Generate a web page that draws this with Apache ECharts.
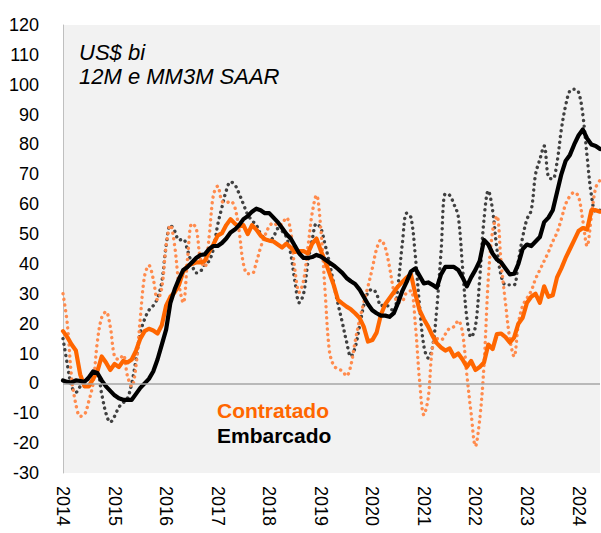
<!DOCTYPE html>
<html>
<head>
<meta charset="utf-8">
<script src="https://cdn.jsdelivr.net/npm/echarts@6/dist/echarts.min.js"></script>
<style>
html,body{margin:0;padding:0;background:#fff;}
#chart{width:601px;height:533px;}
</style>
</head>
<body>
<div id="chart"></div>
<script>
// Monthly categories: Jan 2014 .. Jun 2024
var months = [];
for (var y = 2014; y <= 2024; y++) {
  for (var m = 1; m <= 12; m++) {
    if (y === 2024 && m > 6) break;
    months.push(y + '-' + (m < 10 ? '0' + m : m));
  }
}
var yTicks = [-30, -20, -10, 0, 10, 20, 30, 40, 50, 60, 70, 80, 90, 100, 110, 120];

// Contratado, 12M (solid orange)
var contratado12M = [
  17.5, 15.5, 13, 11, 3, -1, -1, 1.5, 4, 9, 7, 4.5,
  6.5, 5.5, 7.5, 7, 8, 11, 15, 17.5, 18.3, 17.7, 16.7, 19.5,
  26, 29, 30.5, 33, 37.5, 39.3, 40, 40.5, 40.5, 41, 44, 46.5,
  49.5, 50.3, 53, 55, 53.5, 52.5, 53, 50, 53, 51.5, 49.5, 48.3,
  47.8, 47.5, 46.5, 45.5, 46.8, 45.5, 44, 44.3, 44.3, 43.5, 46.8, 48.5,
  44.5, 41, 37, 33, 28, 26.8, 25.7, 24.8, 23.5, 22, 19, 14,
  14.5, 17, 23, 26.5, 28.5, 30.5, 32.5, 34, 35.5, 36.5, 30, 24.5,
  21.5, 19, 16, 13.5, 12, 11, 11.7, 9, 10, 8, 5.5, 7.5,
  4.5, 5.5, 7, 13, 11.5, 16.5, 16.7, 15.5, 13.7, 15.3, 20, 22,
  27, 29, 30, 27, 32.5, 29, 29.5, 35.5, 38.5, 42, 45, 48,
  51, 52, 51.5, 58, 58, 57.5
];
// Contratado, MM3M SAAR (dotted orange)
var contratadoMM3M = [
  30, 20, 2, -7, -11, -10.5, -6, 0, 14, 22, 24, 19,
  9, 8, 9.5, 2.5, -1, 6, 22, 36, 39.5, 35, 28, 32,
  46, 53, 46, 33, 27, 42, 53.5, 52, 41.5, 39, 49, 63,
  66, 61, 60.5, 61, 59, 51, 40, 36.7, 36.7, 40.5, 45.5, 49.5,
  52.5, 53.8, 52.8, 53.5, 55.5, 51, 37.8, 30.5, 34.5, 45.5, 57, 63,
  52, 31, 11, 6, 4.8, 4.2, 2.5, 6, 14, 21, 27, 32.5,
  38.5, 45, 48, 45.5, 39, 31, 27, 27.5, 30.5, 31, 20, 1,
  -10.5, -5, 12, 15, 14.5, 16.5, 18.5, 19, 21, 17, 3, -10,
  -21, -12, 6, 35, 51, 56, 40, 27, 15, 9, 20, 26,
  28.5, 31, 35, 38, 41, 44, 47.5, 50.5, 55, 60, 62.7, 64,
  62.5, 54.5, 46, 56, 65.5, 68
];
// Embarcado, 12M (solid black)
var embarcado12M = [
  1, 0.5, 0.3, 1, 0.8, 0.5, 2, 4, 3.5, 1, -1, -2.5,
  -4, -5, -5.5, -5.5, -5.5, -3.5, -1.5, 0, 1.5, 4, 8, 13,
  18, 27, 31.5, 35, 38, 39, 40.5, 42, 43, 43.2, 45, 46,
  46, 47, 48.5, 50.5, 51.5, 53, 55, 56, 57.5, 58.5, 58, 57,
  57, 55.5, 54, 52, 50, 48.5, 46, 43.5, 42, 42, 42.3, 43,
  42.5, 41.5, 40.5, 39.5, 38.3, 37, 35.3, 34.2, 33.3, 31.5, 29, 26.5,
  24.5, 23.5, 22.7, 22.7, 22.3, 23.5, 27, 31, 34, 37.5, 38.5, 36,
  33.5, 33.8, 33, 32, 36.5, 39, 39, 39, 38, 35.5, 32.5, 35.5,
  38, 41, 48, 46.5, 43.5, 41.5, 40.5, 38.5, 36.5, 36.7, 40, 45,
  46.5, 46, 47.5, 49, 54, 55.5, 58, 64, 70, 74.5, 76.5, 80,
  83, 85, 82, 80, 79.5, 78.5
];
// Embarcado, MM3M SAAR (dotted dark grey)
var embarcadoMM3M = [
  15, 6.5, -1, -3, -1, 0.5, 1.5, 2.5, 3, -3.5, -10, -13,
  -11, -8, -6.5, -5, 0, 8, 17, 21.5, 24.5, 26, 28.5, 34,
  46, 53, 51, 48, 48.3, 44.5, 40, 37, 37.5, 40, 41, 45,
  53, 59, 64.5, 67.5, 66.5, 63.5, 60, 56.5, 54.5, 53, 50, 48.5,
  47.8, 49, 51.8, 51, 49, 43.5, 34, 27, 30, 40.5, 48, 53.5,
  52, 46.5, 40.5, 33.5, 26.7, 20.5, 14, 9, 12, 19, 26, 30.5,
  31.5, 30, 26, 26.3, 25.5, 24, 33, 47, 57, 55.5, 43, 26,
  12.5, 8.5, 12, 25, 44, 63.5, 63, 60, 56, 39, 22, 15.5,
  19, 35, 55, 64.5, 58, 45, 36, 33, 33, 33, 41, 49,
  55, 58, 70, 75, 79.5, 69, 68.5, 74, 85, 93, 98, 98.5,
  97.5, 90, 76, 63, 57.5, 58
];

var FONT = "'Liberation Sans', Arial, sans-serif";
var chart = echarts.init(document.getElementById('chart'), null, {renderer: 'svg'});

function dotted(name, data, color) {
  return {
    name: name, type: 'line', data: data, symbol: 'none', smooth: 0.35,
    lineStyle: {color: color, width: 3.4, type: [0.1, 5.6], cap: 'round', join: 'round'},
    z: 2, silent: true
  };
}
function solid(name, data, color, z) {
  return {
    name: name, type: 'line', data: data, symbol: 'none', smooth: false,
    lineStyle: {color: color, width: 4.2, cap: 'round', join: 'round'},
    z: z, silent: true
  };
}

var series = [
  dotted('Embarcado MM3M', embarcadoMM3M, '#404040'),
  dotted('Contratado MM3M', contratadoMM3M, '#FF8B4D'),
  solid('Contratado 12M', contratado12M, '#FF6600', 3),
  solid('Embarcado 12M', embarcado12M, '#000000', 4)
];
series[0].markLine = {
  silent: true, symbol: 'none', animation: false,
  label: {show: false},
  lineStyle: {color: '#A6A6A6', width: 1.5, type: 'solid'},
  data: [{yAxis: 0}]
};

chart.setOption({
  animation: false,
  backgroundColor: '#ffffff',
  grid: {left: 63, right: 1, top: 25, bottom: 60, show: true, backgroundColor: '#F2F2F2', borderWidth: 0},
  xAxis: {
    type: 'category', data: months, boundaryGap: false,
    axisLine: {show: false}, axisTick: {show: false}, splitLine: {show: false},
    axisLabel: {
      rotate: -90, margin: 13, color: '#000', fontSize: 18, fontFamily: FONT,
      interval: function (i) { return i % 12 === 0; },
      formatter: function (v) { return v.slice(0, 4); }
    }
  },
  yAxis: {
    type: 'value', min: yTicks[0], max: yTicks[yTicks.length - 1], interval: 10,
    axisLine: {show: true, lineStyle: {color: '#BFBFBF', width: 1}},
    axisTick: {show: false}, splitLine: {show: false},
    axisLabel: {color: '#000', fontSize: 18, fontFamily: FONT, margin: 24}
  },
  graphic: [
    {type: 'text', left: 79, top: 41, silent: true,
     style: {text: 'US$ bi', font: 'italic 22px ' + FONT, fill: '#000'}},
    {type: 'text', left: 79, top: 65, silent: true,
     style: {text: '12M e MM3M SAAR', font: 'italic 22px ' + FONT, fill: '#000'}},
    {type: 'text', left: 217, top: 400, silent: true,
     style: {text: 'Contratado', font: 'bold 21px ' + FONT, fill: '#FF6600'}},
    {type: 'text', left: 217, top: 425, silent: true,
     style: {text: 'Embarcado', font: 'bold 21px ' + FONT, fill: '#000'}}
  ],
  series: series
});
</script>
</body>
</html>
